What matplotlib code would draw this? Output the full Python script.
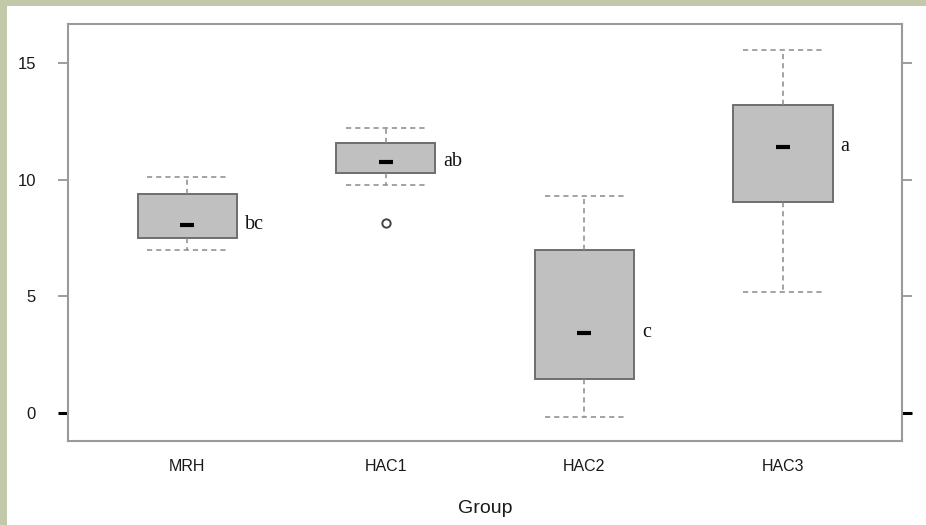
import matplotlib
matplotlib.use("Agg")
import matplotlib.pyplot as plt
from matplotlib.patches import Rectangle

# ---- data ----
groups = ["MRH", "HAC1", "HAC2", "HAC3"]
q1 = [7.50, 10.29, 1.46, 9.04]
q3 = [9.39, 11.57, 6.99, 13.20]
medians = [8.06, 10.76, 3.43, 11.40]
whisker_lo = [6.99, 9.77, -0.17, 5.19]
whisker_hi = [10.10, 12.21, 9.30, 15.56]
outliers = [[], [8.14], [], []]
letters = ["bc", "ab", "c", "a"]
yticks = [0, 5, 10, 15]

W, H = 926, 525
fig = plt.figure(figsize=(W / 100, H / 100), dpi=100)
fig.patch.set_facecolor("#c1c9aa")
fig.add_artist(Rectangle((7 / W, 0), 1, 1 - 6 / H, transform=fig.transFigure,
                         facecolor="white", edgecolor="none", zorder=0))

ax = fig.add_axes([68 / W, (H - 441) / H, (902 - 68) / W, (441 - 24) / H])
ax.set_facecolor("white")

positions = list(range(1, len(groups) + 1))
stats = []
for i in range(len(groups)):
    stats.append(dict(med=medians[i], q1=q1[i], q3=q3[i], whislo=whisker_lo[i],
                      whishi=whisker_hi[i], fliers=outliers[i]))

dash = (0, (3.4, 2.6))
ax.bxp(stats, positions=positions, widths=0.5, capwidths=0.4, patch_artist=True,
       boxprops=dict(facecolor="#c0c0c0", edgecolor="#6e6e6e", linewidth=1.4),
       whiskerprops=dict(color="#8a8a8a", linewidth=1.1, linestyle=dash),
       capprops=dict(color="#8a8a8a", linewidth=1.1, linestyle=dash),
       medianprops=dict(linewidth=0),
       flierprops=dict(marker="o", markersize=6, markerfacecolor="none",
                       markeredgecolor="#444444", markeredgewidth=1.4))

ax.plot(positions, medians, linestyle="none", marker="_", markersize=10,
        markeredgewidth=3, color="black", zorder=5)

for p, m, lab in zip(positions, medians, letters):
    ax.text(p + 0.25 + 0.04, m, lab, fontsize=14.5, family="Liberation Serif",
            va="center", ha="left", color="#111111")

ax.set_xlim(0.4, 4.6)
ax.set_ylim(-1.2, 16.67)
ax.set_xticks(positions)
ax.set_xticklabels(groups, fontsize=11.5, family="Liberation Sans", color="#1a1a1a")
ax.set_yticks(yticks)
ax.set_yticklabels([str(v) for v in yticks], fontsize=12, family="Liberation Sans",
                   color="#1a1a1a")
ax.tick_params(axis="x", length=0, pad=13)
ax.tick_params(axis="y", length=7, width=1.2, color="#8c8c8c", pad=16,
               right=True, direction="out")

# emphasise the zero tick like the reference
for t in ax.yaxis.get_major_ticks():
    if abs(t.get_loc()) < 1e-9:
        for ln in (t.tick1line, t.tick2line):
            ln.set_markeredgecolor("black")
            ln.set_markeredgewidth(2.2)

for s in ax.spines.values():
    s.set_color("#9a9a9a")
    s.set_linewidth(1.5)

ax.set_xlabel("Group", fontsize=14, family="Liberation Sans", color="#1a1a1a",
              labelpad=19)

fig.savefig("out.png", dpi=100, facecolor=fig.get_facecolor())
